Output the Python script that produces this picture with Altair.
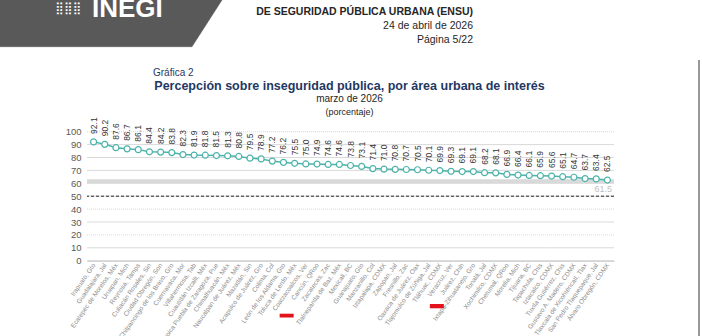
import altair as alt
import pandas as pd

# ---------------- data ----------------
areas = [
    "Irapuato, Gto", "Guadalajara, Jal", "Ecatepec de Morelos, Méx", "Uruapan, Mich",
    "Reynosa, Tamps", "Culiacán Rosales, Sin", "Ciudad Obregón, Son",
    "Chilpancingo de los Bravo, Gro", "Cuernavaca, Mor", "Villahermosa, Tab",
    "Cuautitlán Izcalli, Méx", "Heroica Puebla de Zaragoza, Pue", "Chimalhuacán, Méx",
    "Naucalpan de Juárez, Méx", "Mazatlán, Sin", "Acapulco de Juárez, Gro", "Colima, Col",
    "León de los Aldama, Gto", "Toluca de Lerdo, Méx", "Coatzacoalcos, Ver", "Cancún, QRoo",
    "Zacatecas, Zac", "Tlalnepantla de Baz, Méx", "Mexicali, BC", "Guanajuato, Gto",
    "Manzanillo, Col", "Iztapalapa, CDMX", "Zapopan, Jal", "Fresnillo, Zac",
    "Oaxaca de Juárez, Oax", "Tlajomulco de Zúñiga, Jal", "Tláhuac, CDMX", "Veracruz, Ver",
    "Juárez, Chih", "Ixtapa-Zihuatanejo, Gro", "Tonalá, Jal", "Xochimilco, CDMX",
    "Chetumal, QRoo", "Morelia, Mich", "Tijuana, BC", "Tapachula, Chis", "Iztacalco, CDMX",
    "Tuxtla Gutiérrez, Chis", "Gustavo A. Madero, CDMX", "Tlaxcala de Xicohténcatl, Tlax",
    "San Pedro Tlaquepaque, Jal", "Álvaro Obregón, CDMX",
]
values = [
    92.1, 90.2, 87.6, 86.7, 86.1, 84.4, 84.2, 83.8, 82.3, 81.9, 81.8, 81.5, 81.3, 80.8,
    79.5, 78.9, 77.2, 76.2, 75.5, 75.0, 74.9, 74.6, 74.6, 73.8, 73.1, 71.4, 71.0, 70.8,
    70.7, 70.5, 70.1, 69.9, 69.3, 69.1, 69.1, 68.2, 68.1, 66.9, 66.4, 66.1, 65.9, 65.6,
    65.1, 64.7, 63.7, 63.4, 62.5, 62.1,
]
y_ticks = [0, 10, 20, 30, 40, 50, 60, 70, 80, 90, 100]
national = [61.5]
half_line = [50]
highlighted = ["Toluca de Lerdo, Méx", "Tláhuac, CDMX"]

n = min(len(areas), len(values))
areas = areas[:n]
values = values[:n]
df = pd.DataFrame({"area": areas, "valor": values})
df["etq"] = [f"{v:.1f}" for v in values]

# ---------------- layout ----------------
OX, OY = 87.0, 131.7      # plot origin in page pixels
W, H = 527, 129
TEAL = "#4bb3aa"
NAVY = "#1f3864"
FONT = "Liberation Sans"

def px(x):
    return x - OX

def py(y):
    return y - OY

xscale = alt.Scale(type="point", padding=0.59)
xaxis = alt.Axis(title=None, labelAngle=305, labelFontSize=6.5, labelColor="#8c8c8c",
                 labelFont=FONT, ticks=False, domainColor="#bfbfbf",
                 labelPadding=3, labelOverlap=False, labelLimit=200, grid=False)
yscale = alt.Scale(domain=[0, 100], nice=False, zero=True)
yaxis = alt.Axis(title=None, values=y_ticks, labelFontSize=9.5, labelColor="#595959",
                 labelFont=FONT, ticks=False, domain=False, labelPadding=6,
                 labelOverlap=False, grid=False)

def X():
    return alt.X("area:N", sort=areas, scale=xscale, axis=xaxis)

def Y(field):
    return alt.Y(field, scale=yscale, axis=yaxis)

base = alt.Chart(df)

grid = alt.Chart(pd.DataFrame({"t": y_ticks})).mark_rule(strokeWidth=1).encode(
    y=Y("t:Q"),
    color=alt.value("#d9d9d9"),
    strokeDash=alt.condition("datum.t == 100 || datum.t == 40 || datum.t == 20",
                             alt.value([1, 1]), alt.value([1, 0])),
)

nat_df = pd.DataFrame({"v": national, "lbl": [f"{national[0]:.1f}"]})
nat_line = alt.Chart(nat_df).mark_rule(color="#d9d9d9", strokeWidth=4).encode(y=Y("v:Q"))
nat_text = alt.Chart(nat_df).mark_text(align="right", baseline="top", dy=4, fontSize=9,
                                       color="#bfbfbf", font=FONT).encode(
    y=Y("v:Q"), x=alt.value(W - 2), text="lbl:N")

half = alt.Chart(pd.DataFrame({"v": half_line})).mark_rule(
    color="#262626", strokeWidth=1, strokeDash=[3, 2]).encode(y=Y("v:Q"))

line = base.mark_line(color=TEAL, strokeWidth=1.5).encode(x=X(), y=Y("valor:Q"))
pts = base.mark_point(shape="circle", filled=True, fill="white", stroke=TEAL,
                      strokeWidth=1.2, size=36, opacity=1).encode(x=X(), y=Y("valor:Q"))
lbls = base.mark_text(angle=270, align="left", baseline="middle", dx=8, fontSize=8.5,
                      color="#333333", font=FONT).encode(
    x=X(), y=Y("valor:Q"), text="etq:N")

mark1 = alt.Chart(pd.DataFrame({"area": [highlighted[0]]})).mark_bar(
    width=14, color="#e3121b").encode(
    x=X(), y=alt.value(py(313.7)), y2=alt.value(py(317.5)), xOffset=alt.value(-8))
mark2 = alt.Chart(pd.DataFrame({"area": [highlighted[1]]})).mark_bar(
    width=14, color="#e3121b").encode(
    x=X(), y=alt.value(py(304.0)), y2=alt.value(py(308.3)), xOffset=alt.value(-3))

# ---------------- page texts / decoration ----------------
def txt(s, x, y, size, align="left", weight="normal", color="#262626", font=FONT,
        baseline="middle"):
    return alt.Chart(pd.DataFrame({"s": [s]})).mark_text(
        align=align, baseline=baseline, fontSize=size, fontWeight=weight, color=color,
        font=font).encode(x=alt.value(px(x)), y=alt.value(py(y)), text="s:N")

# header shape (parallelogram) as custom symbol: box 222 px wide
R = 111.0
shape_path = "M-1,-1 L1,-1 L0.7297,-0.5793 L-1,-0.5793 Z"
header = alt.Chart(pd.DataFrame({"k": [1]})).mark_point(
    shape=shape_path, filled=True, fill="#595959", stroke="#595959", strokeWidth=0.5,
    opacity=1, size=(2 * R) ** 2).encode(x=alt.value(px(R)), y=alt.value(py(R)))

texts = [
    txt("⣿⣿⣿", 55, 8, 12, color="white", font="DejaVu Sans"),
    txt("INEGI", 92, 17, 26, weight="bold", color="white", baseline="alphabetic"),
    txt("DE SEGURIDAD PÚBLICA URBANA (ENSU)", 473, 12, 10.5, align="right", weight="bold",
        color="#262626"),
    txt("24 de abril de 2026", 473, 26, 10.5, align="right"),
    txt("Página 5/22", 473, 40, 10.5, align="right"),
    txt("Gráfica 2", 153, 73, 10, color=NAVY),
    txt("Percepción sobre inseguridad pública, por área urbana de interés", 349.5, 85.5, 12.5,
        align="center", weight="bold", color=NAVY),
    txt("marzo de 2026", 349.5, 99, 10, align="center"),
    txt("(porcentaje)", 349.5, 111.5, 9, align="center"),
]

border = alt.Chart(pd.DataFrame({"k": [1]})).mark_rule(color="#333333", strokeWidth=1).encode(
    x=alt.value(px(699)), y=alt.value(py(60)), y2=alt.value(py(336)))

chart = alt.layer(grid, nat_line, nat_text, half, line, pts, lbls, mark1, mark2, header,
                  border, *texts).properties(
    width=W, height=H,
    autosize=alt.AutoSizeParams(type="none"),
    padding={"left": OX, "top": OY, "right": 702 - OX - W, "bottom": 336 - OY - H},
    background="white",
).configure_view(stroke=None)

chart.save("out.html", embed_options={"renderer": "svg", "actions": False})
